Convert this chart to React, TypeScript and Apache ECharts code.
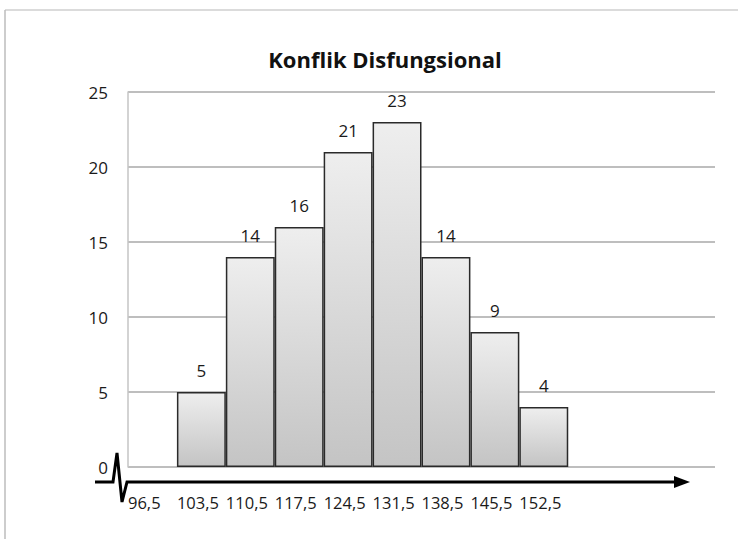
import React, { useEffect, useRef } from "react";
import * as echarts from "echarts";

const title = "Konflik Disfungsional";
const slots = ["s0", "s1", "s2", "s3", "s4", "s5", "s6", "s7", "s8", "s9", "s10", "s11"];
const frequencies = [null, 5, 14, 16, 21, 23, 14, 9, 4, null, null, null];
const boundaryLabels = ["96,5", "103,5", "110,5", "117,5", "124,5", "131,5", "138,5", "145,5", "152,5"];
const yTicks = [0, 5, 10, 15, 20, 25];

const FONT = "'Open Sans', 'Noto Sans', sans-serif";

export default function App() {
  const ref = useRef<HTMLDivElement>(null);
  useEffect(() => {
    if (!ref.current) return;
    const chart = echarts.init(ref.current, null, { renderer: "svg" });
    chart.setOption({
      animation: false,
      backgroundColor: "#ffffff",
      title: {
        text: title,
        left: 380,
        top: 43,
        textAlign: "center",
        textStyle: { fontFamily: FONT, fontSize: 22, fontWeight: "bold", color: "#111" },
      },
      grid: { left: 128, right: 23, top: 92, bottom: 72 },
      xAxis: [
        {
          type: "category",
          data: slots,
          boundaryGap: true,
          axisLine: { show: false },
          axisTick: { show: false },
          axisLabel: { show: false },
        },
        {
          type: "value",
          position: "bottom",
          min: 0,
          max: 12,
          interval: 1,
          axisLine: { show: false },
          axisTick: { show: false },
          splitLine: { show: false },
          axisLabel: {
            show: true,
            align: "left",
            margin: 27,
            fontFamily: FONT,
            fontSize: 16.5,
            color: "#1a1a1a",
            formatter: (v: number) => boundaryLabels[v] ?? "",
          },
        },
      ],
      yAxis: {
        type: "value",
        min: yTicks[0],
        max: yTicks[yTicks.length - 1],
        interval: 5,
        axisLine: { show: true, lineStyle: { color: "#c4c4c4", width: 1.5 } },
        axisTick: { show: false },
        splitLine: { show: true, lineStyle: { color: "#a8a8a8", width: 1.5 } },
        axisLabel: { fontFamily: FONT, fontSize: 17, color: "#1a1a1a", margin: 20 },
      },
      series: [
        {
          type: "bar",
          data: frequencies,
          xAxisIndex: 0,
          barCategoryGap: "0%",
          itemStyle: {
            color: new echarts.graphic.LinearGradient(0, 0, 0, 1, [
              { offset: 0, color: "#eeeeee" },
              { offset: 1, color: "#c4c4c4" },
            ]),
            borderColor: "#2a2a2a",
            borderWidth: 1.5,
          },
          label: {
            show: true,
            position: "top",
            distance: 13,
            fontFamily: FONT,
            fontSize: 17,
            color: "#1a1a1a",
          },
        },
      ],
      graphic: [
        { type: "line", shape: { x1: 5, y1: 10, x2: 738, y2: 10 }, style: { stroke: "#cfcfcf", lineWidth: 1.5 } },
        { type: "line", shape: { x1: 5, y1: 10, x2: 5, y2: 539 }, style: { stroke: "#bdbdbd", lineWidth: 1.5 } },
        {
          type: "polyline",
          shape: {
            points: [
              [95, 482],
              [113, 482],
              [117, 453],
              [122, 502],
              [127, 482],
              [678, 482],
            ],
          },
          style: { stroke: "#000", lineWidth: 3, fill: null },
        },
        {
          type: "polygon",
          shape: { points: [[674, 476], [690, 482], [674, 488]] },
          style: { fill: "#000" },
        },
      ],
    });
    return () => chart.dispose();
  }, []);
  return <div ref={ref} style={{ position: "fixed", left: 0, top: 0, width: 738, height: 539 }} />;
}
